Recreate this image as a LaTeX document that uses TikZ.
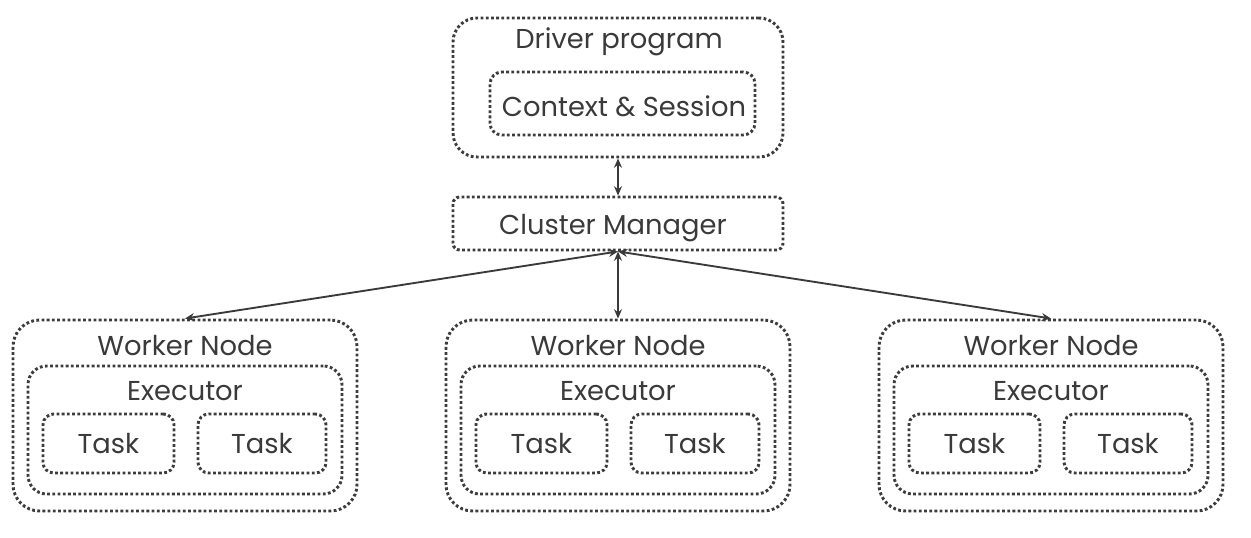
\documentclass[tikz,border=0pt]{standalone}
\usepackage{fontspec}
\setmainfont{Poppins}
\usetikzlibrary{arrows.meta}
\definecolor{ink}{HTML}{3A3A3A}
\definecolor{dotc}{HTML}{3C3C3C}
\tikzset{
  dotbox/.style={draw=dotc, line width=2.2pt, dash pattern=on 2.1pt off 1.8pt, fill=none, inner sep=0pt},
  lbl/.style={text=ink, font=\fontsize{20.5}{24}\selectfont, inner sep=0pt, anchor=center},
  conn/.style={draw=ink, line width=1.4pt, {Stealth[length=7pt,width=6pt]}-{Stealth[length=7pt,width=6pt]}}
}
\begin{document}
\begin{tikzpicture}[x=0.75pt,y=-0.75pt]
\useasboundingbox (0,0) rectangle (1251,538);
% Driver
\node[dotbox, rounded corners=18pt, minimum width={330*0.75pt}, minimum height={139*0.75pt}] (drv) at (618,87.5) {};
\node[lbl] (drvt) at (619,42) {Driver program};
\node[dotbox, rounded corners=9pt, minimum width={265*0.75pt}, minimum height={63*0.75pt}] (ctx) at (622.5,103.5) {};
\node[lbl] (ctxt) at (624,106) {Context \& Session};
% Cluster manager
\node[dotbox, rounded corners=5pt, minimum width={330*0.75pt}, minimum height={53*0.75pt}] (cm) at (618,223.5) {};
\node[lbl] (cmt) at (613,228) {Cluster Manager};
\draw[conn] (drv.south) -- (cm.north);
% Workers
\foreach \i/\dx in {1/0,2/433,3/866}{
  \node[dotbox, rounded corners=20pt, minimum width={344*0.75pt}, minimum height={191*0.75pt}] (w\i) at (185+\dx,415.5) {};
  \node[lbl] (w\i t) at (185+\dx,346) {Worker Node};
  \node[dotbox, rounded corners=14pt, minimum width={314*0.75pt}, minimum height={128*0.75pt}] (e\i) at (185+\dx,430) {};
  \node[lbl] (e\i t) at (185+\dx,391) {Executor};
  \node[dotbox, rounded corners=8pt, minimum width={131*0.75pt}, minimum height={59*0.75pt}] (ta\i) at (108.5+\dx,443.5) {};
  \node[lbl] (ta\i t) at (108.5+\dx,444) {Task};
  \node[dotbox, rounded corners=8pt, minimum width={128*0.75pt}, minimum height={59*0.75pt}] (tb\i) at (262+\dx,443.5) {};
  \node[lbl] (tb\i t) at (262+\dx,444) {Task};
}
\draw[conn] (cm.south) -- (w1.north);
\draw[conn] (cm.south) -- (w2.north);
\draw[conn] (cm.south) -- (w3.north);
\end{tikzpicture}
\end{document}
